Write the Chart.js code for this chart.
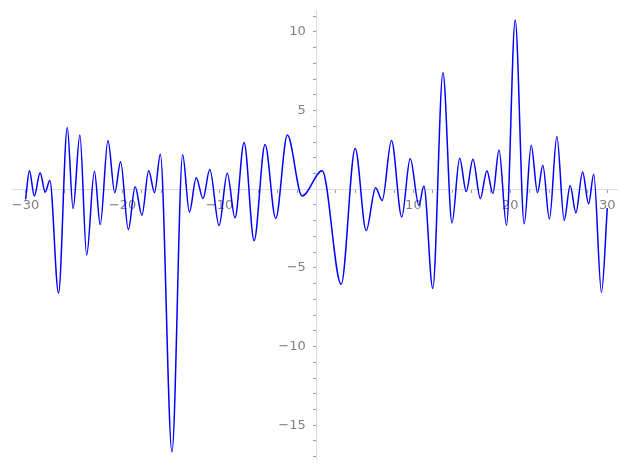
<!DOCTYPE html>
<html>
<head>
<meta charset="utf-8">
<script src="https://cdn.jsdelivr.net/npm/chart.js@4/dist/chart.umd.min.js"></script>
<style>
  html, body { margin: 0; padding: 0; background: #fff; }
</style>
</head>
<body>
<canvas id="plot" width="627" height="470"></canvas>
<script>
// curve: turning points of the wave, left to right
const xs = [
  -30, -29.6, -29.1, -28.5, -27.98, -27.5, -26.6, -25.7, -25.1, -24.4,
  -23.7, -22.9, -22.3, -21.5, -20.8, -20.2, -19.4, -18.7, -18.0, -17.3,
  -16.7, -16.1, -14.9, -13.8, -13.1, -12.4, -11.7, -11.0, -10.04, -9.2,
  -8.4, -7.46, -6.43, -5.3, -4.2, -3.0, -1.48, 0.59, 2.55, 4.0,
  5.13, 6.1, 6.78, 7.74, 8.8, 9.67, 10.57, 11.08, 12.0, 13.05,
  13.98, 14.77, 15.45, 16.14, 16.9, 17.58, 18.2, 18.83, 19.6, 20.5,
  21.43, 22.15, 22.8, 23.35, 24.03, 24.8, 25.55, 26.17, 26.76, 27.45,
  28.07, 28.6, 29.4, 30
];
const ys = [
  -0.65, 1.17, -0.43, 1.05, -0.18, 0.56, -6.6, 3.93, -1.23, 3.44,
  -4.18, 1.14, -2.25, 3.10, -0.22, 1.74, -2.57, 0.16, -1.65, 1.17,
  -0.22, 2.22, -16.7, 2.19, -1.46, 0.73, -0.59, 1.25, -2.31, 1.01,
  -1.82, 2.97, -3.27, 2.84, -1.86, 3.44, -0.43, 1.17, -6.04, 2.59,
  -2.63, 0.10, -0.72, 3.09, -1.76, 1.95, -1.03, 0.20, -6.3, 7.4,
  -2.14, 1.97, -0.14, 1.90, -0.59, 1.17, -0.27, 2.5, -2.29, 10.75,
  -2.2, 2.8, -0.22, 1.52, -1.9, 3.35, -1.97, 0.24, -1.5, 1.10,
  -0.93, 0.95, -6.56, -1.2
];

// labelled ticks; minor ticks every 2 on x, every 1 on y
const xTickLabels = [-30, -20, -10, 10, 20, 30];
const yTickLabels = [-15, -10, -5, 5, 10];
const xMinorStep = 2;
const yMinorStep = 1;

const fmt = v => String(v).replace('-', '\u2212');

function minorTicks(scale, step) {
  const ticks = [];
  const start = Math.ceil(scale.min / step) * step;
  for (let v = start; v <= scale.max; v += step) ticks.push({ value: v });
  scale.ticks = ticks;
}

const points = xs.map((x, i) => ({ x, y: ys[i] }));

new Chart(document.getElementById('plot'), {
  type: 'line',
  data: {
    datasets: [{
      data: points,
      borderColor: '#0000ff',
      borderWidth: 1.5,
      pointRadius: 0,
      fill: false,
      cubicInterpolationMode: 'monotone'
    }]
  },
  options: {
    responsive: false,
    animation: false,
    layout: { padding: { left: 12, right: 10, top: 8, bottom: 1 } },
    plugins: { legend: { display: false }, tooltip: { enabled: false } },
    scales: {
      x: {
        type: 'linear',
        min: -31.4,
        max: 31.0,
        position: { y: 0 },
        afterFit: s => { s.height = 0; },
        afterBuildTicks: s => minorTicks(s, xMinorStep),
        border: { display: true, color: '#dddddd', width: 1 },
        grid: { drawOnChartArea: false, drawTicks: true, tickLength: 3, tickColor: '#999999' },
        ticks: {
          autoSkip: false,
          maxRotation: 0,
          padding: 6,
          color: '#808080',
          font: { family: 'DejaVu Sans', size: 13 },
          callback: v => xTickLabels.includes(v) ? fmt(v) : ''
        }
      },
      y: {
        type: 'linear',
        min: -17.16,
        max: 11.34,
        position: { x: 0 },
        afterFit: s => { s.width = 0; },
        afterBuildTicks: s => minorTicks(s, yMinorStep),
        border: { display: true, color: '#dddddd', width: 1 },
        grid: { drawOnChartArea: false, drawTicks: true, tickLength: 3, tickColor: '#999999' },
        ticks: {
          autoSkip: false,
          color: '#808080',
          font: { family: 'DejaVu Sans', size: 13 },
          // centred y axis puts labels flush on the line, trailing space gives the gap
          callback: v => yTickLabels.includes(v) ? fmt(v) + '\u2002 ' : ''
        }
      }
    }
  }
});
</script>
</body>
</html>
